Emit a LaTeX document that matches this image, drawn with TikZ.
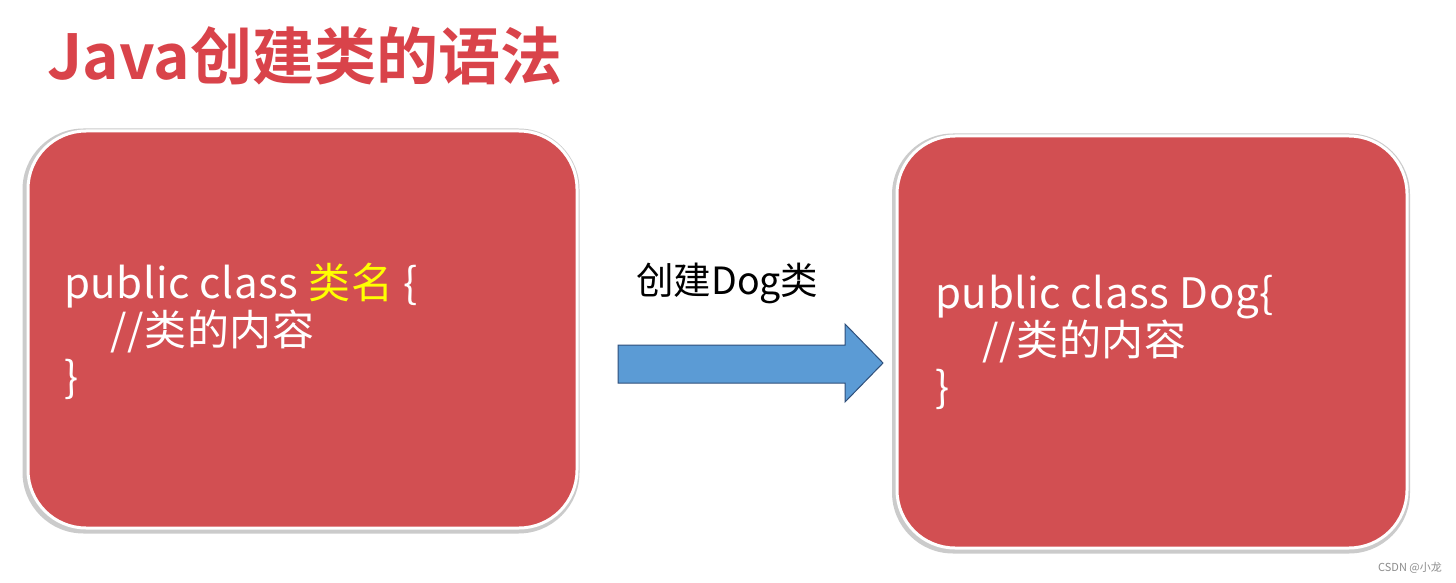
\documentclass[tikz,border=0pt]{standalone}
\usepackage{fontspec}
\setmainfont{Noto Sans CJK SC}
\newfontfamily\cjkbold{Noto Sans CJK SC Bold}
\newfontfamily\codefont[LetterSpace=1.5]{Noto Sans CJK SC}
\definecolor{boxred}{HTML}{D24F52}
\definecolor{titlered}{HTML}{D9434A}
\definecolor{arrowblue}{HTML}{5B9BD5}
\definecolor{arrowedge}{HTML}{2F4F7A}
\definecolor{kwyellow}{HTML}{FFFF00}
\definecolor{wmgray}{HTML}{8C8C8C}
\tikzset{
  codebox/.style={rectangle, rounded corners=58pt, fill=boxred, draw=white, line width=3pt},
  boxshadow/.style={rectangle, rounded corners=61pt, fill=black!45, draw=none},
  codeline/.style={anchor=base west, inner sep=0pt, text=white, font=\codefont\fontsize{42}{48}\selectfont},
  blockarrow/.style={fill=arrowblue, draw=arrowedge, line width=1pt, line join=miter},
}
\begin{document}
\begin{tikzpicture}[x=1pt,y=-1pt]
\useasboundingbox[fill=white] (0,0) rectangle (1456,583);
% title
\node[anchor=base west, inner sep=0pt, text=titlered, font=\cjkbold\fontsize{62}{70}\selectfont] (title) at (47,80) {Java创建类的语法};
% shadows
\node[boxshadow, minimum width=557pt, minimum height=405pt, opacity=0.45] (lsh) at (301,331) {};
\node[boxshadow, minimum width=518pt, minimum height=420pt, opacity=0.45] (rsh) at (1151,343.5) {};
% boxes
\node[codebox, minimum width=549pt, minimum height=397pt] (left) at (302.5,329.5) {};
\node[codebox, minimum width=510pt, minimum height=412pt] (right) at (1152,342) {};
% left code
\node[codeline] (l1) at (64,298) {public class \textcolor{kwyellow}{类名} \{};
\node[codeline] (l2) at (110,345) {//类的内容};
\node[codeline] (l3) at (64,392) {\}};
% right code
\node[codeline] (r1) at (935,308) {public class Dog\{};
\node[codeline] (r2) at (982,355) {//类的内容};
\node[codeline] (r3) at (935,402) {\}};
% arrow label
\node[anchor=base west, inner sep=0pt, font=\fontsize{37.5}{40}\selectfont] (lab) at (636,294) {创建Dog类};
% block arrow
\coordinate (a1) at (618,345);
\coordinate (a2) at (845,345);
\coordinate (a3) at (845,324);
\coordinate (tip) at (883,363);
\coordinate (a5) at (845,402);
\coordinate (a6) at (845,383);
\coordinate (a7) at (618,383);
\draw[blockarrow] (a1) -- (a2) -- (a3) -- (tip) -- (a5) -- (a6) -- (a7) -- cycle;
% watermark
\node[anchor=base east, inner sep=0pt, text=wmgray, font=\fontsize{11}{12}\selectfont] (wm) at (1442,571) {CSDN @小龙};
\end{tikzpicture}
\end{document}
